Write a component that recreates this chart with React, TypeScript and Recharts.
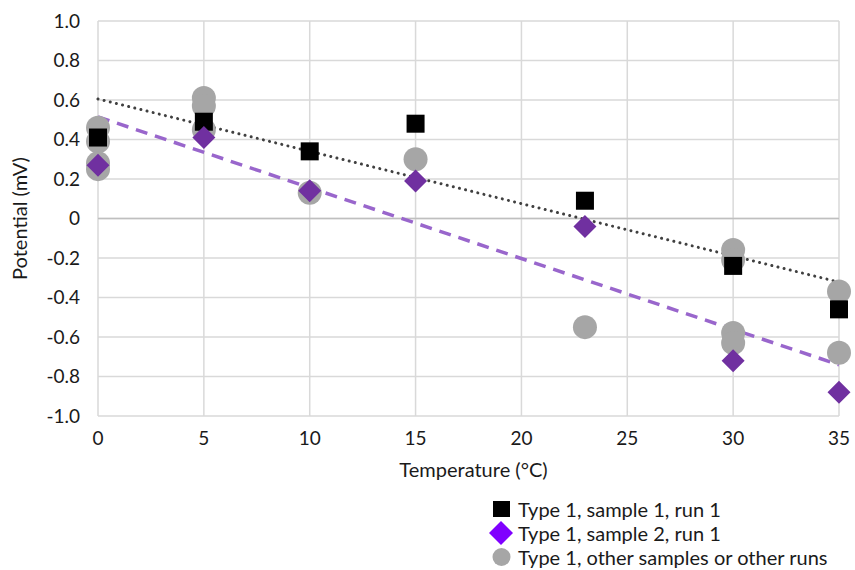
import React from 'react';
import { ScatterChart, Scatter, XAxis, YAxis, CartesianGrid, ReferenceLine } from 'recharts';

// Measurement temperatures (°C) for the two highlighted runs
const temperatures = [0, 5, 10, 15, 23, 30, 35];
// Type 1, sample 1, run 1 (mV)
const sample1Run1 = [0.41, 0.49, 0.34, 0.48, 0.09, -0.24, -0.46];
// Type 1, sample 2, run 1 (mV)
const sample2Run1 = [0.27, 0.41, 0.14, 0.19, -0.04, -0.72, -0.88];
// Type 1, other samples or other runs
const otherTemps = [0, 0, 0, 0, 5, 5, 5, 10, 15, 23, 30, 30, 30, 30, 35, 35];
const otherValues = [0.46, 0.39, 0.28, 0.25, 0.61, 0.57, 0.45, 0.13, 0.3, -0.55, -0.16, -0.21, -0.58, -0.63, -0.37, -0.68];

const xTicks = [0, 5, 10, 15, 20, 25, 30, 35];
const yTicks = [-1, -0.8, -0.6, -0.4, -0.2, 0, 0.2, 0.4, 0.6, 0.8, 1];

const FONT = "Lato, 'Open Sans', sans-serif";
const TEXT = '#1a1a1a';
const GRID = '#d9d9d9';
const GREY = '#a6a6a6';
const PURPLE = '#7030a0';
const LEGEND_PURPLE = '#8000ff';
const TREND_PURPLE = '#9966cc';
const TREND_DARK = '#404040';

const toPoints = (xs: number[], ys: number[]) => xs.map((x, i) => ({ x, y: ys[i] }));

// Least-squares linear trendline over a series
const fitLine = (xs: number[], ys: number[]) => {
  const n = xs.length;
  const mx = xs.reduce((a, b) => a + b, 0) / n;
  const my = ys.reduce((a, b) => a + b, 0) / n;
  let sxy = 0;
  let sxx = 0;
  xs.forEach((x, i) => {
    sxy += (x - mx) * (ys[i] - my);
    sxx += (x - mx) * (x - mx);
  });
  const slope = sxy / sxx;
  const intercept = my - slope * mx;
  const x0 = xs[0];
  const x1 = xs[n - 1];
  return [
    { x: x0, y: intercept + slope * x0 },
    { x: x1, y: intercept + slope * x1 },
  ];
};

const trend1 = fitLine(temperatures, sample1Run1);
const trend2 = fitLine(temperatures, sample2Run1);

const Square = (props: any) => {
  const { cx, cy } = props;
  const s = 18;
  return <rect x={cx - s / 2} y={cy - s / 2} width={s} height={s} fill="#000" />;
};

const Diamond = (props: any) => {
  const { cx, cy } = props;
  const r = 11.5;
  return <polygon points={`${cx},${cy - r} ${cx + r},${cy} ${cx},${cy + r} ${cx - r},${cy}`} fill={PURPLE} />;
};

const Dot = (props: any) => {
  const { cx, cy } = props;
  return <circle cx={cx} cy={cy} r={12} fill={GREY} />;
};

const fmtY = (v: number) => (Math.abs(v) < 1e-9 ? '0' : v.toFixed(1));

const legendRows = [
  { label: 'Type 1, sample 1, run 1', kind: 'square' },
  { label: 'Type 1, sample 2, run 1', kind: 'diamond' },
  { label: 'Type 1, other samples or other runs', kind: 'circle' },
];

const LegendIcon = ({ kind }: { kind: string }) => (
  <svg width={26} height={24} style={{ display: 'block' }}>
    {kind === 'square' && <rect x={5} y={4} width={17} height={16} fill="#000" />}
    {kind === 'diamond' && <polygon points="13,0 25,12 13,24 1,12" fill={LEGEND_PURPLE} />}
    {kind === 'circle' && <circle cx={13.5} cy={12} r={9} fill={GREY} />}
  </svg>
);

export default function App() {
  return (
    <div style={{ position: 'absolute', left: 0, top: 0, width: 855, height: 570, background: '#fff', fontFamily: FONT }}>
      <ScatterChart width={855} height={570} margin={{ top: 21, right: 16, bottom: 89, left: 18 }}>
        <CartesianGrid stroke={GRID} strokeWidth={1.5} />
        <XAxis
          type="number"
          dataKey="x"
          domain={[0, 35]}
          ticks={xTicks}
          interval={0}
          axisLine={false}
          tickLine={false}
          tickMargin={10}
          height={65}
          tick={{ fill: TEXT, fontSize: 19, fontFamily: FONT }}
          label={{ value: 'Temperature (°C)', position: 'insideBottom', offset: 4, dx: 5, fill: TEXT, fontSize: 20, fontFamily: FONT }}
        />
        <YAxis
          type="number"
          dataKey="y"
          domain={[-1, 1]}
          ticks={yTicks}
          interval={0}
          axisLine={false}
          tickLine={false}
          tickMargin={12}
          width={80}
          tickFormatter={fmtY}
          tick={{ fill: TEXT, fontSize: 19, fontFamily: FONT }}
          label={{ value: 'Potential (mV)', angle: -90, position: 'insideLeft', offset: 2, style: { textAnchor: 'middle' }, fill: TEXT, fontSize: 20, fontFamily: FONT }}
        />
        <ReferenceLine y={0} stroke="#bfbfbf" strokeWidth={1.5} />
        <Scatter data={toPoints(otherTemps, otherValues)} shape={Dot} isAnimationActive={false} />
        <Scatter data={toPoints(temperatures, sample1Run1)} shape={Square} isAnimationActive={false} />
        <Scatter data={toPoints(temperatures, sample2Run1)} shape={Diamond} isAnimationActive={false} />
        <ReferenceLine segment={trend2} stroke={TREND_PURPLE} strokeWidth={3.5} strokeDasharray="12 8" />
        <ReferenceLine segment={trend1} stroke={TREND_DARK} strokeWidth={3} strokeDasharray="0.01 6.3" strokeLinecap="round" />
      </ScatterChart>
      <div style={{ position: 'absolute', left: 488, top: 497, color: TEXT, fontSize: 20, fontFamily: FONT }}>
        {legendRows.map((r) => (
          <div key={r.label} style={{ display: 'flex', alignItems: 'center', height: 24 }}>
            <LegendIcon kind={r.kind} />
            <span style={{ marginLeft: 4, whiteSpace: 'nowrap' }}>{r.label}</span>
          </div>
        ))}
      </div>
    </div>
  );
}
